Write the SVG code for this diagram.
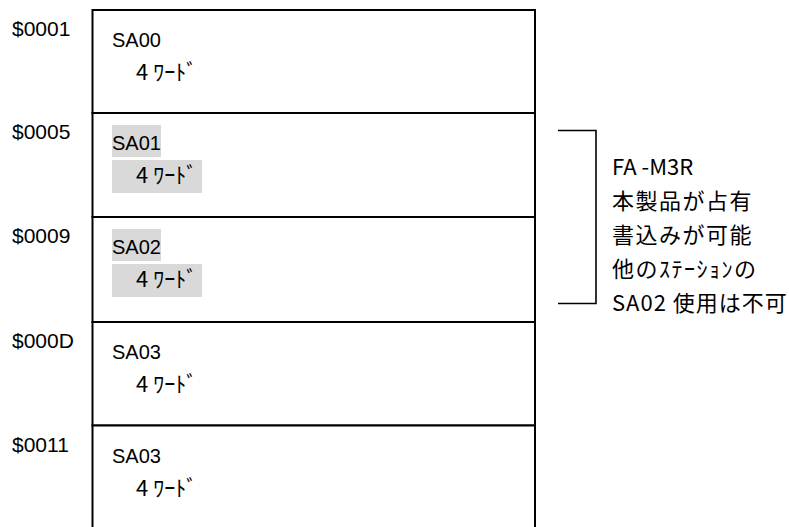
<svg xmlns="http://www.w3.org/2000/svg" width="789" height="527" viewBox="0 0 789 527">
<style>
.box{fill:#fff;stroke:#000;stroke-width:2}
.t{font-family:"Liberation Sans","Noto Sans CJK JP",sans-serif;font-size:20px;fill:#000}
.a{font-family:"Liberation Sans","Noto Sans CJK JP",sans-serif;font-size:21px;fill:#000}
.j{font-family:"Noto Sans CJK JP","Liberation Sans",sans-serif;font-size:22px;fill:#000}
.n{font-family:"Noto Sans CJK JP","Liberation Sans",sans-serif;font-size:22px;fill:#000;letter-spacing:1px}
.r{font-family:"Noto Sans CJK JP","Liberation Sans",sans-serif;font-size:22px;fill:#000;letter-spacing:1.5px}
.hl{fill:#d9d9d9}
.br{fill:none;stroke:#000;stroke-width:1.6}
</style>
<rect width="789" height="527" fill="#fff"/>
<g id="addresses">
<text class="a" x="12" y="36">$0001</text>
<text class="a" x="12" y="139">$0005</text>
<text class="a" x="12" y="243">$0009</text>
<text class="a" x="12" y="348">$000D</text>
<text class="a" x="12" y="452">$0011</text>
</g>
<g id="row-sa00">
<rect class="box" x="92.5" y="10" width="442.5" height="103"/>
<text class="t" x="112" y="47">SA00</text>
<text class="j" x="136" y="80">4 ﾜｰﾄﾞ</text>
</g>
<g id="row-sa01">
<rect class="box" x="92.5" y="113" width="442.5" height="104"/>
<rect class="hl" x="112" y="125" width="49" height="32"/>
<rect class="hl" x="112" y="160" width="90" height="33"/>
<text class="t" x="112" y="150">SA01</text>
<text class="j" x="136" y="183">4 ﾜｰﾄﾞ</text>
</g>
<g id="row-sa02">
<rect class="box" x="92.5" y="217" width="442.5" height="105"/>
<rect class="hl" x="112" y="229" width="49" height="32"/>
<rect class="hl" x="112" y="264" width="90" height="33"/>
<text class="t" x="112" y="254">SA02</text>
<text class="j" x="136" y="287">4 ﾜｰﾄﾞ</text>
</g>
<g id="row-sa03a">
<rect class="box" x="92.5" y="322" width="442.5" height="103.5"/>
<text class="t" x="112" y="359">SA03</text>
<text class="j" x="136" y="392">4 ﾜｰﾄﾞ</text>
</g>
<g id="row-sa03b">
<rect class="box" x="92.5" y="425.5" width="442.5" height="120"/>
<text class="t" x="112" y="463">SA03</text>
<text class="j" x="136" y="496">4 ﾜｰﾄﾞ</text>
</g>
<g id="connectors">
<polyline class="br" points="558,130.5 596,130.5 596,303.5 558,303.5"/>
</g>
<g id="note">
<text class="j" x="612" y="175">FA -M3R</text>
<text class="r" x="612" y="209">本製品が占有</text>
<text class="r" x="612" y="243">書込みが可能</text>
<text class="r" x="612" y="277">他のｽﾃｰｼｮﾝの</text>
<text class="n" x="612" y="311">SA02 使用は不可</text>
</g>
</svg>
